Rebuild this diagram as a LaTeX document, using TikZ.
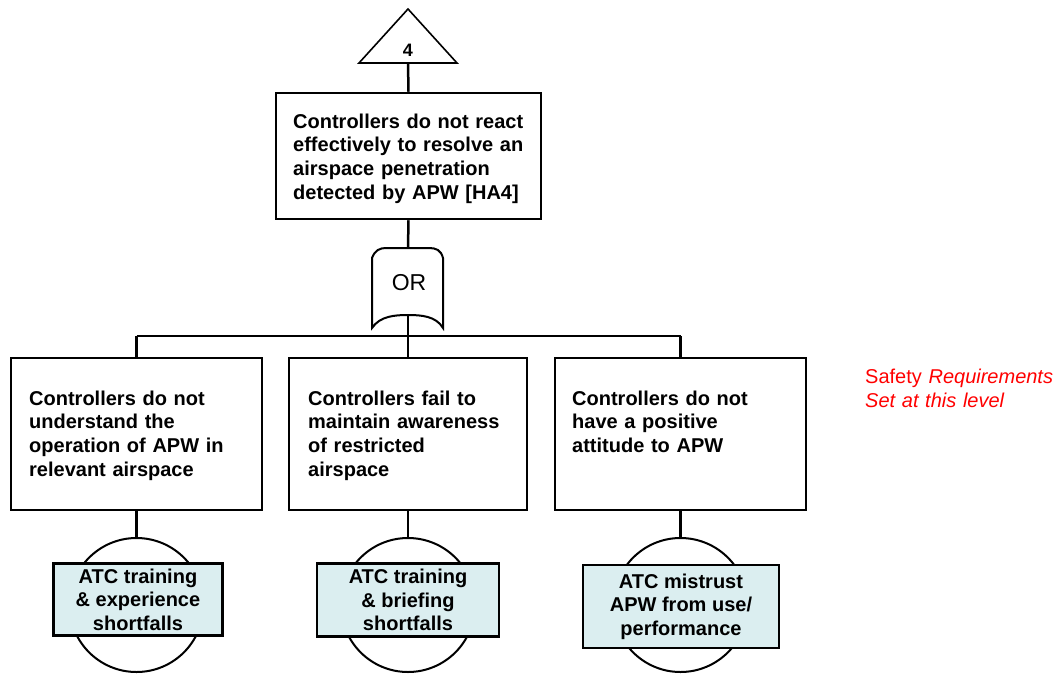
\documentclass[tikz,border=0pt]{standalone}
\usepackage{fontspec}
\setmainfont{Liberation Sans}
\definecolor{basicfill}{RGB}{219,238,240}
\definecolor{notered}{RGB}{255,0,0}
\begin{document}
\begin{tikzpicture}[x=1pt,y=-1pt,
  evbox/.style={draw, line width=2.5pt, inner sep=0pt, minimum height=152pt},
  evtext/.style={anchor=base west, inner sep=0pt, align=left, text width=235pt,
     font=\fontsize{20}{23.7}\selectfont\bfseries},
  conn/.style={line width=2.5pt},
  bcircle/.style={draw, circle, line width=2pt, minimum size=134pt, inner sep=0pt},
  brect/.style={draw, fill=basicfill, line width=2.5pt, inner sep=0pt, align=center,
     font=\fontsize{20}{23.5}\selectfont\bfseries},
  gatepath/.style={line width=2pt, fill=white},
  note/.style={anchor=base west, inner sep=0pt, align=left, text=notered, text width=200pt,
     font=\fontsize{20}{24}\selectfont}
]
\useasboundingbox (0,0) rectangle (1063,675);

% transfer triangle
\draw[line width=1.6pt, line join=miter] (408,9) -- (457,63) -- (359,63) -- cycle;
\node[inner sep=0pt, font=\fontsize{18}{20}\selectfont\bfseries] (four) at (408,50) {4};
\coordinate (trib) at (408,63);

% top event
\node[draw, line width=2.5pt, inner sep=0pt, minimum width=265pt, minimum height=126pt] (top) at (408.5,156) {};
\node[evtext, text width=245pt] (ttop) at (293,128) {Controllers do not react\\effectively to resolve an\\airspace penetration\\detected by APW [HA4]};

% OR gate
\coordinate (gtop) at (408,248);
\coordinate (gbot) at (408,315);
\draw[gatepath] (372,328) -- (372,258) .. controls (375,250) and (380,248) .. (386,248)
  -- (429,248) .. controls (436,248) and (441,250) .. (443,258) -- (443,328)
  .. controls (436,316) and (421,315) .. (408,315)
  .. controls (395,315) and (380,316) .. (372,328) -- cycle;
\node[inner sep=0pt, font=\fontsize{23}{25}\selectfont] (gate) at (409,283) {OR};

% bar
\coordinate (barL) at (136.5,336);
\coordinate (barM) at (408,336);
\coordinate (barR) at (680.5,336);

% intermediate events
\node[evbox, minimum width=251pt] (b1) at (136.5,434) {};
\node[evbox, minimum width=238pt] (b2) at (408,434) {};
\node[evbox, minimum width=251pt] (b3) at (680.5,434) {};
\node[evtext] (t1) at (29,405) {Controllers do not\\understand the\\operation of APW in\\relevant airspace};
\node[evtext] (t2) at (308,405) {Controllers fail to\\maintain awareness\\of restricted\\airspace};
\node[evtext] (t3) at (572,405) {Controllers do not\\have a positive\\attitude to APW};

% basic events
\node[bcircle] (c1) at (136.5,605) {};
\node[bcircle] (c2) at (408,605) {};
\node[bcircle] (c3) at (680.5,605) {};
\node[brect, minimum width=169pt, minimum height=72pt] (r1) at (138,599.5) {ATC training\\\& experience\\shortfalls};
\node[brect, minimum width=182pt, minimum height=73pt] (r2) at (408,600) {ATC training\\\& briefing\\shortfalls};
\node[brect, minimum width=196pt, minimum height=83pt] (r3) at (681,606.5) {ATC mistrust\\APW from use/\\performance};

% connectors
\draw[conn] (trib) -- (top.north);
\draw[conn] (top.south) -- (gtop);
\draw[conn] (gbot) -- (barM);
\draw[conn] (barL) -- (barR);
\draw[conn] (barL) -- (b1.north);
\draw[conn] (barM) -- (b2.north);
\draw[conn] (barR) -- (b3.north);
\draw[conn] (b1.south) -- (c1.north);
\draw[conn] (b2.south) -- (c2.north);
\draw[conn] (b3.south) -- (c3.north);

% note
\node[note] (note) at (865,383) {Safety \textit{Requirements}\\\textit{Set at this level}};
\end{tikzpicture}
\end{document}
